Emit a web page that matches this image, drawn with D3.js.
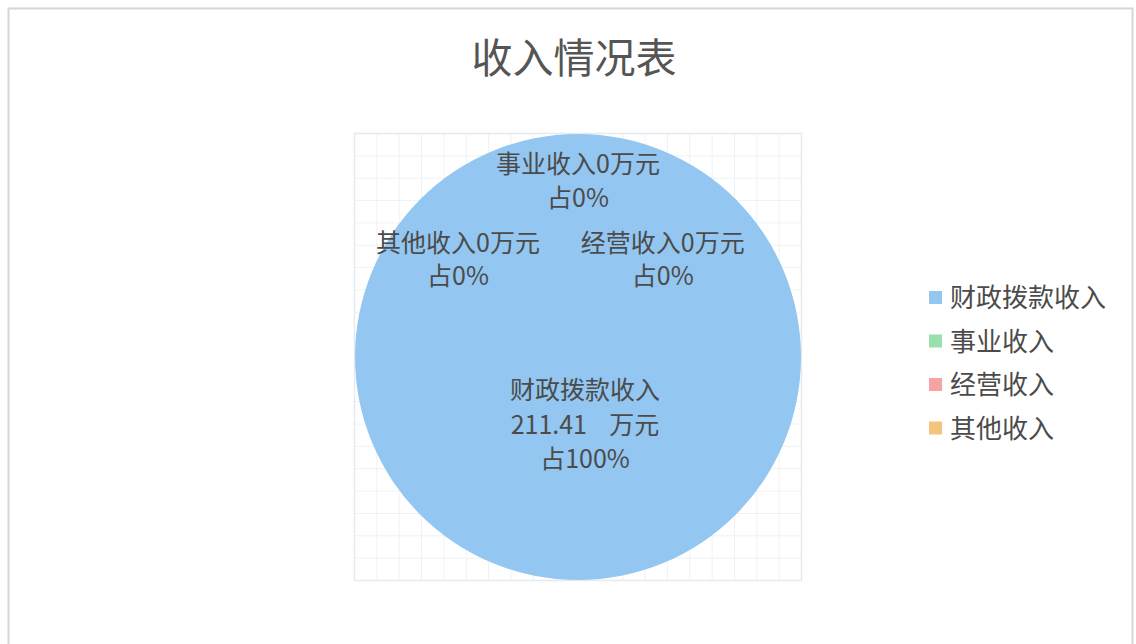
<!DOCTYPE html>
<html>
<head>
<meta charset="utf-8">
<script src="https://cdn.jsdelivr.net/npm/d3@7/dist/d3.min.js"></script>
<style>
  html, body { margin: 0; padding: 0; background: #fff; }
  body { width: 1136px; height: 644px; overflow: hidden; }
  svg { display: block; font-family: "Noto Sans CJK SC", "Noto Sans", sans-serif; }
</style>
</head>
<body>
<div id="chart"></div>
<script>
// 数据
var categories = ['财政拨款收入', '事业收入', '经营收入', '其他收入'];
var values = [211.41, 0, 0, 0];
var colors = ['#93c6f0', '#9adfae', '#f5a3a3', '#f5c47c'];
var title = '收入情况表';

var width = 1136, height = 644;
var svg = d3.select('#chart').append('svg')
  .attr('width', width)
  .attr('height', height);

// 外框
svg.append('rect')
  .attr('x', 8.5).attr('y', 8.5)
  .attr('width', 1124).attr('height', 660)
  .attr('fill', '#fff')
  .attr('stroke', '#d6d6d6')
  .attr('stroke-width', 2);

// 标题
svg.append('text')
  .attr('x', 574).attr('y', 73)
  .attr('text-anchor', 'middle')
  .attr('font-size', 41)
  .attr('fill', '#555')
  .text(title);

var cx = 578, cy = 357, radius = 223;

// 背景网格
var gridSize = 447, cells = 20;
var grid = svg.append('g')
  .attr('transform', 'translate(' + (cx - gridSize / 2) + ',' + (cy - gridSize / 2) + ')');
var gs = d3.scaleLinear().domain([0, cells]).range([0, gridSize]);
grid.selectAll('line.v')
  .data(d3.range(cells + 1))
  .enter().append('line')
  .attr('x1', gs).attr('x2', gs)
  .attr('y1', 0).attr('y2', gridSize)
  .attr('stroke', '#eef2f5').attr('stroke-width', 1);
grid.selectAll('line.h')
  .data(d3.range(cells + 1))
  .enter().append('line')
  .attr('y1', gs).attr('y2', gs)
  .attr('x1', 0).attr('x2', gridSize)
  .attr('stroke', '#eef2f5').attr('stroke-width', 1);
grid.append('rect')
  .attr('width', gridSize).attr('height', gridSize)
  .attr('fill', 'none').attr('stroke', '#e6eaee').attr('stroke-width', 1.5);

// 饼图
var total = d3.sum(values);
var pie = d3.pie().sort(null).value(function (d) { return d; });
var arcs = pie(values);
var arc = d3.arc().innerRadius(0).outerRadius(radius);
var main = svg.append('g').attr('transform', 'translate(' + cx + ',' + cy + ')');

main.selectAll('path')
  .data(arcs)
  .enter().append('path')
  .attr('d', arc)
  .attr('fill', function (d, i) { return colors[i]; });

// 标签
var labelArc = d3.arc().innerRadius(0).outerRadius(radius * 0.64);
var zeroIdx = 0;
arcs.forEach(function (d, i) {
  var pct = total ? Math.round(d.value / total * 100) : 0;
  var lines, x, y, lh;
  if (d.value > 0) {
    var c = labelArc.centroid(d);
    x = c[0] + 7; y = c[1] - 29; lh = 34.5;
    lines = [categories[i], d.value + '\u00a0\u00a0\u00a0\u00a0万元', '占' + pct + '%'];
  } else {
    // 0值扇区的标签堆叠在顶部
    var p = d3.arc().innerRadius(0).outerRadius(radius * 1.65).centroid(d);
    lh = 33.5;
    if (zeroIdx === 0) { x = p[0]; y = p[1]; }
    else if (zeroIdx === 1) { x = p[0] + radius * 0.38; y = p[1] + radius * 0.354; }
    else { x = p[0] - radius * 0.538; y = p[1] + radius * 0.354; }
    zeroIdx++;
    lines = [categories[i] + d.value + '万元', '占' + pct + '%'];
  }
  var t = main.append('text')
    .attr('text-anchor', 'middle')
    .attr('font-size', 25)
    .attr('fill', '#4b4b4b');
  lines.forEach(function (s, k) {
    t.append('tspan')
      .attr('x', x)
      .attr('y', y + k * lh)
      .text(s);
  });
});

// 图例
var legend = svg.append('g').attr('transform', 'translate(929,283)');
var ly = d3.scaleBand().domain(categories).range([0, 174]);
var items = legend.selectAll('g')
  .data(categories)
  .enter().append('g')
  .attr('transform', function (d) { return 'translate(0,' + ly(d) + ')'; });
items.append('rect')
  .attr('x', 0).attr('y', 8)
  .attr('width', 13).attr('height', 13)
  .attr('fill', function (d, i) { return colors[i]; });
items.append('text')
  .attr('x', 21).attr('y', 24)
  .attr('font-size', 26)
  .attr('fill', '#4b4b4b')
  .text(function (d) { return d; });
</script>
</body>
</html>
